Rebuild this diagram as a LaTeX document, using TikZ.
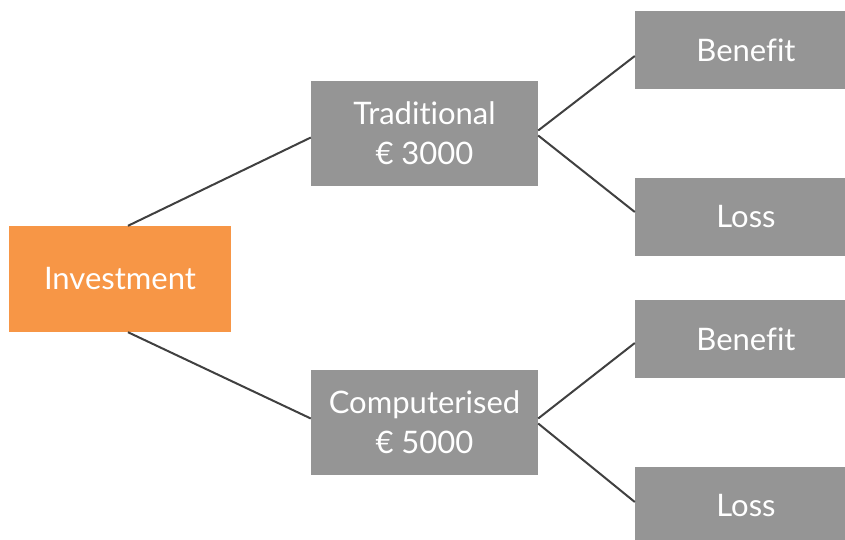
\documentclass[tikz,border=0pt]{standalone}
\usepackage{fontspec}
\setmainfont{Lato}[Ligatures=NoCommon]
\definecolor{orangebox}{HTML}{F79646}
\definecolor{graybox}{HTML}{959595}
\definecolor{linecol}{HTML}{404040}
\begin{document}
\begin{tikzpicture}[x=1pt,y=-1pt,
  boxbase/.style={rectangle, inner sep=0pt, text=white, align=center, font=\fontsize{31}{40}\selectfont},
  orangenode/.style={boxbase, fill=orangebox, minimum width=222pt, minimum height=106pt},
  midnode/.style={boxbase, fill=graybox, minimum width=227pt, minimum height=105pt},
  leafnode/.style={boxbase, fill=graybox, minimum width=222pt, minimum height=78pt},
  conn/.style={draw=linecol, line width=2pt}]
\useasboundingbox (0,0) rectangle (845,539);
\node[orangenode] (inv) at (120,279) {Investment};
\node[midnode] (trad) at (424.5,133.5) {Traditional\\€ 3000};
\node[midnode] (comp) at (424.5,422.5) {Computerised\\€ 5000};
\node[leafnode] (ben1) at (746,50) {Benefit};
\node[leafnode] (loss1) at (746,217) {Loss};
\node[leafnode] (ben2) at (746,339) {Benefit};
\node[leafnode] (loss2) at (746,506) {Loss};
\draw[conn] ([xshift=8pt]inv.north) -- ([yshift=-4pt]trad.west);
\draw[conn] ([xshift=8pt]inv.south) -- ([yshift=4pt]comp.west);
\draw[conn] ([yshift=3pt]trad.east) -- ([yshift=-6pt]ben1.west);
\draw[conn] ([yshift=-2pt]trad.east) -- ([yshift=5pt]loss1.west);
\draw[conn] ([yshift=4pt]comp.east) -- ([yshift=-4pt]ben2.west);
\draw[conn] ([yshift=-1pt]comp.east) -- ([yshift=4pt]loss2.west);
\end{tikzpicture}
\end{document}
